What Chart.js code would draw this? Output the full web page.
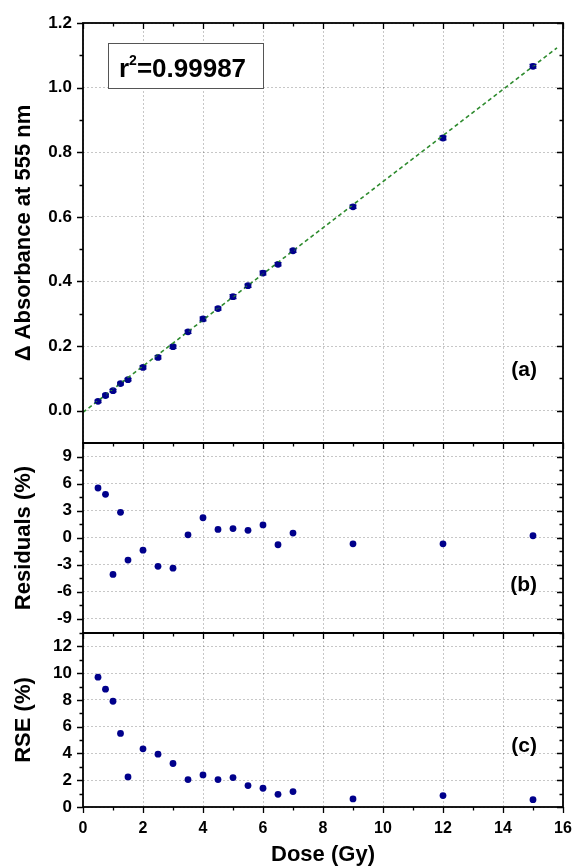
<!DOCTYPE html>
<html>
<head>
<meta charset="utf-8">
<script src="https://cdn.jsdelivr.net/npm/chart.js@4.4.0/dist/chart.umd.min.js"></script>
<style>
body { margin: 0; background: #fff; }
#wrap { position: relative; width: 573px; height: 868px; overflow: hidden; }
canvas { position: absolute; left: 0; }
</style>
</head>
<body>
<div id="wrap">
  <canvas id="chartA" width="573" height="455" style="top:0px"></canvas>
  <canvas id="chartB" width="573" height="214" style="top:431px"></canvas>
  <canvas id="chartC" width="573" height="247" style="top:621px"></canvas>
</div>
<script>
// Dose values (Gy), shared by all three panels
const dose = [0.5, 0.75, 1, 1.25, 1.5, 2, 2.5, 3, 3.5, 4, 4.5, 5, 5.5, 6, 6.5, 7, 9, 12, 15];
// (a) delta absorbance at 555 nm and its error bars
const absorbance = [0.029, 0.047, 0.062, 0.084, 0.096, 0.134, 0.165, 0.198, 0.244, 0.284, 0.316, 0.353, 0.387, 0.426, 0.453, 0.495, 0.631, 0.844, 1.066];
const absError = [0.004, 0.004, 0.004, 0.004, 0.004, 0.005, 0.005, 0.005, 0.005, 0.006, 0.005, 0.006, 0.005, 0.006, 0.005, 0.005, 0.005, 0.006, 0.006];
// linear fit end points
const fitX = [0, 15.8];
const fitY = [-0.005, 1.123];
// (b) residuals (%)
const residuals = [5.5, 4.8, -4.1, 2.8, -2.5, -1.4, -3.2, -3.4, 0.3, 2.2, 0.9, 1.0, 0.8, 1.4, -0.8, 0.5, -0.7, -0.7, 0.2];
// (c) relative standard error (%)
const rse = [9.7, 8.8, 7.9, 5.5, 2.25, 4.35, 3.95, 3.25, 2.05, 2.4, 2.05, 2.2, 1.6, 1.4, 0.95, 1.15, 0.6, 0.85, 0.55];

// tick values
const xTicks = [0, 2, 4, 6, 8, 10, 12, 14, 16];
const xMinor = [1, 3, 5, 7, 9, 11, 13, 15];
const absTicks = [0, 0.2, 0.4, 0.6, 0.8, 1.0, 1.2];
const absMinor = [0.1, 0.3, 0.5, 0.7, 0.9, 1.1];
const resTicks = [-9, -6, -3, 0, 3, 6, 9];
const resMinor = [-7.5, -4.5, -1.5, 1.5, 4.5, 7.5];
const rseTicks = [0, 2, 4, 6, 8, 10, 12];
const rseMinor = [1, 3, 5, 7, 9, 11, 13];

const FONT = "'Liberation Sans', Arial, sans-serif";
const navy = '#00008b';

Chart.defaults.font.family = FONT;
Chart.defaults.color = '#000';

function pts(ys) {
    return dose.map((d, i) => ({ x: d, y: ys[i] }));
}

// frame, ticks, panel label, error bars
const panelFrame = {
    id: 'panelFrame',
    afterDatasetsDraw(chart, args, o) {
        const { ctx, chartArea: a, scales: { x, y } } = chart;
        ctx.save();

        // error bars
        if (o.errors) {
            ctx.strokeStyle = navy;
            ctx.lineWidth = 1.2;
            ctx.beginPath();
            dose.forEach((d, i) => {
                const px = x.getPixelForValue(d);
                const y1 = y.getPixelForValue(absorbance[i] - o.errors[i]);
                const y2 = y.getPixelForValue(absorbance[i] + o.errors[i]);
                ctx.moveTo(px, y1); ctx.lineTo(px, y2);
                ctx.moveTo(px - 3.5, y1); ctx.lineTo(px + 3.5, y1);
                ctx.moveTo(px - 3.5, y2); ctx.lineTo(px + 3.5, y2);
            });
            ctx.stroke();
        }

        ctx.strokeStyle = '#000';
        ctx.lineWidth = 1.3;
        ctx.beginPath();
        const xt = (vals, len) => vals.forEach(v => {
            const px = Math.round(x.getPixelForValue(v)) + 0.5;
            ctx.moveTo(px, a.top); ctx.lineTo(px, a.top + len);
            if (o.bottomTicks) { ctx.moveTo(px, a.bottom); ctx.lineTo(px, a.bottom + len); }
        });
        const yt = (vals, len) => vals.forEach(v => {
            const py = Math.round(y.getPixelForValue(v)) + 0.5;
            ctx.moveTo(a.left, py); ctx.lineTo(a.left - len, py);
            ctx.moveTo(a.right, py); ctx.lineTo(a.right - len, py);
        });
        xt(xTicks, 6); xt(xMinor, 3.5);
        yt(o.yMajor, 6); yt(o.yMinor, 3.5);
        ctx.stroke();

        ctx.lineWidth = 1.8;
        ctx.strokeRect(a.left, a.top, a.right - a.left, a.bottom - a.top);

        // panel label
        ctx.fillStyle = '#000';
        ctx.font = 'bold 21px ' + FONT;
        ctx.textAlign = 'right';
        ctx.textBaseline = 'middle';
        ctx.fillText(o.label, a.right - 26, a.top + o.labelY);

        // r^2 box
        if (o.r2) {
            const bx = a.left + 25, by = a.top + 20;
            ctx.fillStyle = '#fff';
            ctx.fillRect(bx, by, 155, 45);
            ctx.strokeStyle = '#555';
            ctx.lineWidth = 1;
            ctx.strokeRect(bx + 0.5, by + 0.5, 155, 45);
            ctx.fillStyle = '#000';
            ctx.textAlign = 'left';
            ctx.textBaseline = 'alphabetic';
            ctx.font = 'bold 26px ' + FONT;
            let tx = bx + 11;
            const base = by + 34;
            ctx.fillText('r', tx, base);
            tx += ctx.measureText('r').width;
            ctx.font = 'bold 14px ' + FONT;
            ctx.fillText('2', tx, base - 12);
            tx += ctx.measureText('2').width;
            ctx.font = 'bold 26px ' + FONT;
            ctx.fillText('=0.99987', tx, base);
        }
        ctx.restore();
    }
};

const gridStyle = {
    color: 'rgba(0,0,0,0.28)',
    lineWidth: 0.8,
    drawTicks: false
};

function xScale(showLabels) {
    return {
        type: 'linear',
        min: 0,
        max: 16,
        afterBuildTicks: s => { s.ticks = xTicks.map(v => ({ value: v })); },
        afterFit: s => {
            s.height = showLabels ? 61 : 0;
            s.paddingLeft = 0; s.paddingRight = 0;
        },
        grid: gridStyle,
        border: { display: false, dash: [2, 2] },
        ticks: {
            display: showLabels,
            padding: 12,
            font: { size: 16, weight: 'bold' },
            maxRotation: 0
        },
        title: {
            display: showLabels,
            text: 'Dose (Gy)',
            font: { size: 22, weight: 'bold' },
            padding: { top: 0, bottom: 0 }
        }
    };
}

function yScale(min, max, ticks, title, fmt) {
    return {
        type: 'linear',
        min: min,
        max: max,
        afterBuildTicks: s => { s.ticks = ticks.map(v => ({ value: v })); },
        afterFit: s => {
            s.width = 83;
            s.paddingTop = 0; s.paddingBottom = 0;
        },
        grid: gridStyle,
        border: { display: false, dash: [2, 2] },
        ticks: {
            padding: 11,
            font: { size: 17, weight: 'bold' },
            callback: v => fmt(v)
        },
        title: {
            display: true,
            text: title,
            font: { size: 22, weight: 'bold' },
            padding: { top: 11, bottom: 0 }
        }
    };
}

const scatterStyle = {
    type: 'scatter',
    backgroundColor: navy,
    borderColor: navy,
    pointRadius: 3.4,
    pointBorderWidth: 0,
    showLine: false
};

const common = {
    responsive: false,
    animation: false,
    plugins: { legend: { display: false }, tooltip: { enabled: false } }
};

new Chart(document.getElementById('chartA'), {
    data: {
        datasets: [
            {
                type: 'line',
                data: fitX.map((v, i) => ({ x: v, y: fitY[i] })),
                borderColor: '#2e8b2e',
                borderWidth: 1.6,
                borderDash: [4, 3],
                pointRadius: 0,
                fill: false
            },
            Object.assign({ data: pts(absorbance) }, scatterStyle)
        ]
    },
    options: Object.assign({}, common, {
        layout: { padding: { top: 23, bottom: 12, left: 0, right: 10 } },
        scales: {
            x: xScale(false),
            y: yScale(-0.1, 1.2, absTicks, '\u0394 Absorbance at 555 nm', v => v.toFixed(1))
        },
        plugins: Object.assign({}, common.plugins, {
            panelFrame: { yMajor: absTicks, yMinor: absMinor, label: '(a)', labelY: 347, errors: absError, r2: true }
        })
    }),
    plugins: [panelFrame]
});

new Chart(document.getElementById('chartB'), {
    data: { datasets: [Object.assign({ data: pts(residuals) }, scatterStyle)] },
    options: Object.assign({}, common, {
        layout: { padding: { top: 12, bottom: 12, left: 0, right: 10 } },
        scales: {
            x: xScale(false),
            y: yScale(-10.6, 10.5, resTicks, 'Residuals (%)', v => String(v))
        },
        plugins: Object.assign({}, common.plugins, {
            panelFrame: { yMajor: resTicks, yMinor: resMinor, label: '(b)', labelY: 142 }
        })
    }),
    plugins: [panelFrame]
});

new Chart(document.getElementById('chartC'), {
    data: { datasets: [Object.assign({ data: pts(rse) }, scatterStyle)] },
    options: Object.assign({}, common, {
        layout: { padding: { top: 12, bottom: 0, left: 0, right: 10 } },
        scales: {
            x: xScale(true),
            y: yScale(0, 13, rseTicks, 'RSE (%)', v => String(v))
        },
        plugins: Object.assign({}, common.plugins, {
            panelFrame: { yMajor: rseTicks, yMinor: rseMinor, label: '(c)', labelY: 113, bottomTicks: true }
        })
    }),
    plugins: [panelFrame]
});
</script>
</body>
</html>
